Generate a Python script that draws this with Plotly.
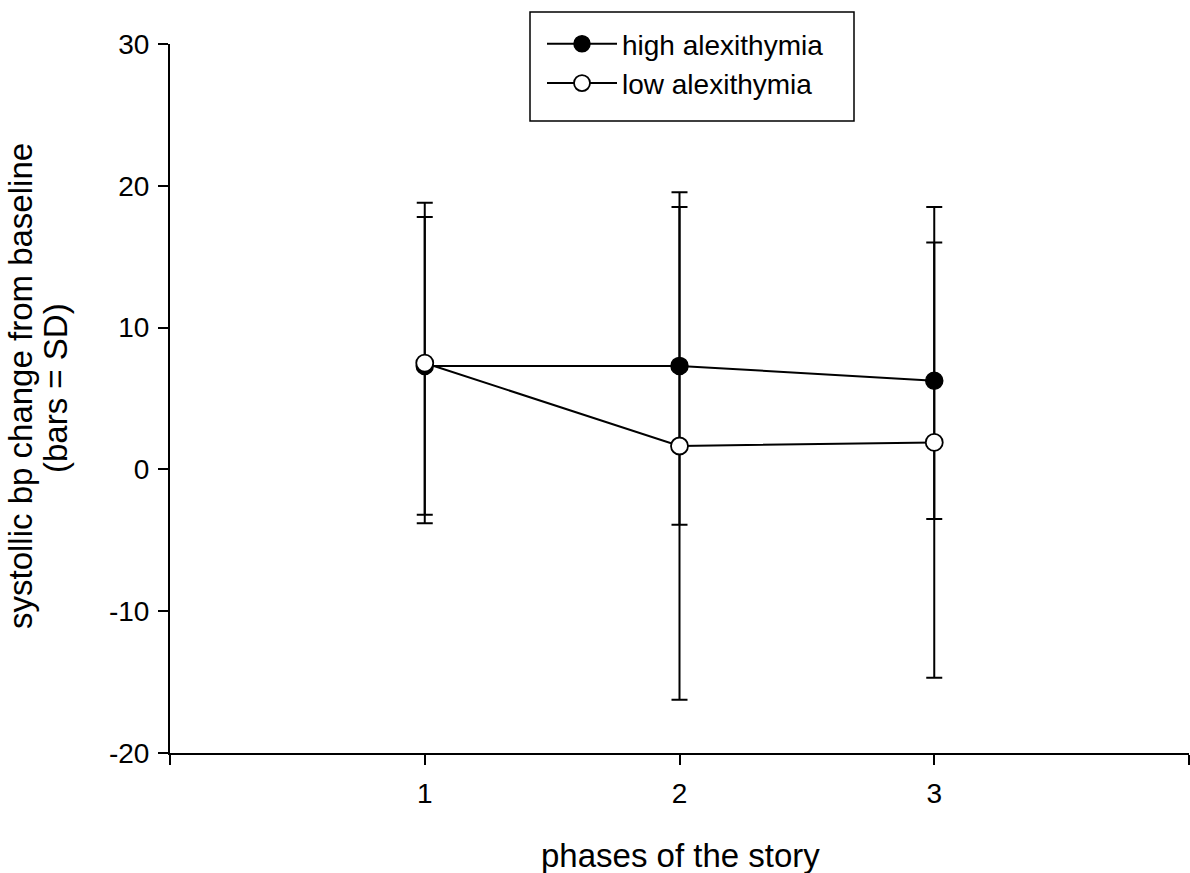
import plotly.graph_objects as go

phases = [1, 2, 3]
high_mean = [7.3, 7.3, 6.25]
high_sd = [10.5, 11.2, 9.75]
low_mean = [7.5, 1.65, 1.9]
low_sd = [11.3, 17.9, 16.6]
y_ticks = [-20, -10, 0, 10, 20, 30]
y_ticktext = ["-20", "-10", "0", "10", "20", "30"]
x_ticks = [0, 1, 2, 3, 4]
x_ticktext = ["", "1", "2", "3", ""]

FONT = "Liberation Sans, Arial, Helvetica, sans-serif"
L, T, R, B = 170, 44, 1189, 753
PW, PH = R - L, B - T


def px(xp):
    return (xp - L) / PW


def py(yp):
    return (B - yp) / PH


fig = go.Figure()
fig.add_trace(go.Scatter(
    x=phases, y=high_mean, name="high alexithymia", mode="lines+markers",
    line=dict(color="black", width=2),
    marker=dict(symbol="circle", size=17, color="black", line=dict(color="black", width=1.5)),
    error_y=dict(type="data", array=high_sd, visible=True, color="black", thickness=2, width=8),
))
fig.add_trace(go.Scatter(
    x=phases, y=low_mean, name="low alexithymia", mode="lines+markers",
    line=dict(color="black", width=2),
    marker=dict(symbol="circle", size=17, color="white", line=dict(color="black", width=1.8)),
    error_y=dict(type="data", array=low_sd, visible=True, color="black", thickness=2, width=8),
))

fig.update_layout(
    width=1190, height=873,
    margin=dict(l=L, r=1190 - R, t=T, b=873 - B),
    paper_bgcolor="white", plot_bgcolor="white",
    font=dict(family=FONT, color="black"),
    showlegend=True,
    legend=dict(
        x=px(542), y=py(19), xanchor="left", yanchor="top",
        borderwidth=0, bgcolor="rgba(0,0,0,0)",
        font=dict(size=28, family=FONT, color="black"),
        itemwidth=70,
    ),
    xaxis=dict(
        range=[0, 4], tickmode="array", tickvals=x_ticks, ticktext=x_ticktext,
        showline=True, linecolor="black", linewidth=2,
        ticks="outside", ticklen=10, tickwidth=2, tickcolor="black",
        showgrid=False, zeroline=False,
        tickfont=dict(size=28, family=FONT, color="black"),
        ticklabelstandoff=4,
    ),
    yaxis=dict(
        range=[-20, 30], tickmode="array", tickvals=y_ticks, ticktext=y_ticktext,
        showline=True, linecolor="black", linewidth=2,
        ticks="outside", ticklen=10, tickwidth=2, tickcolor="black",
        showgrid=False, zeroline=False,
        tickfont=dict(size=28, family=FONT, color="black"),
        ticklabelstandoff=3,
    ),
)

# legend frame
fig.add_shape(type="rect", xref="paper", yref="paper",
              x0=px(530), x1=px(854), y0=py(121), y1=py(12),
              line=dict(color="black", width=1.5), fillcolor="rgba(0,0,0,0)")

fig.add_annotation(text="phases of the story", xref="paper", yref="paper",
                   x=px(680), y=py(855), xanchor="center", yanchor="middle",
                   showarrow=False, font=dict(size=33, family=FONT, color="black"))
fig.add_annotation(text="systollic bp change from baseline", xref="paper", yref="paper",
                   x=px(20), y=py(386), xanchor="center", yanchor="middle",
                   textangle=-90, showarrow=False, font=dict(size=33, family=FONT, color="black"))
fig.add_annotation(text="(bars = SD)", xref="paper", yref="paper",
                   x=px(55), y=py(388), xanchor="center", yanchor="middle",
                   textangle=-90, showarrow=False, font=dict(size=33, family=FONT, color="black"))

fig.write_html("out.html")
